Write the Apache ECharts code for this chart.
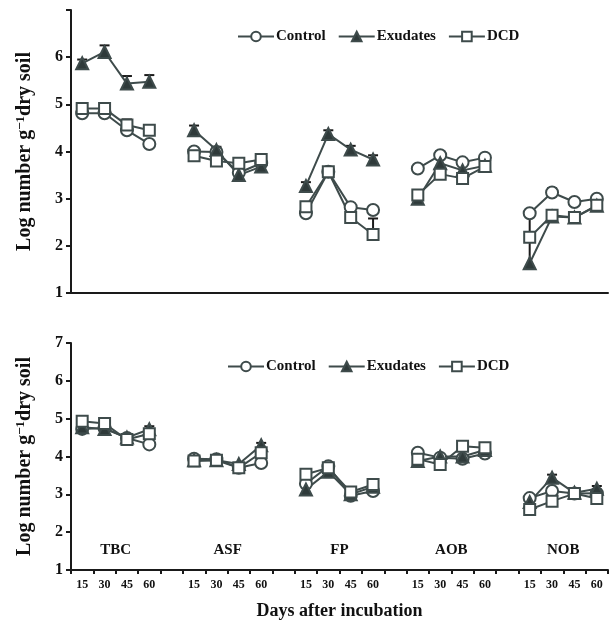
<!DOCTYPE html>
<html>
<head>
<meta charset="utf-8">
<script src="https://cdn.jsdelivr.net/npm/echarts@6/dist/echarts.min.js"></script>
<style>
  html, body { margin: 0; padding: 0; background: #fff; }
  #main { width: 613px; height: 621px; }
</style>
</head>
<body>
<div id="main"></div>
<script>
// groups on the x axis and the sampling days inside each group
const groups = ['TBC', 'ASF', 'FP', 'AOB', 'NOB']
const days = ['15', '30', '45', '60']

// upper panel (4 values per group, same order as groups)
const ctrlTop = [4.81, 4.81, 4.45, 4.16, 4.0, 3.99, 3.55, 3.75, 2.69, 3.57, 2.82, 2.76, 3.64, 3.92, 3.77, 3.87, 2.69, 3.13, 2.93, 3.0]
const exuTop = [5.87, 6.11, 5.44, 5.48, 4.45, 4.03, 3.5, 3.68, 3.27, 4.37, 4.04, 3.83, 3.0, 3.75, 3.6, 3.7, 1.63, 2.62, 2.6, 2.85]
const dcdTop = [4.91, 4.91, 4.56, 4.45, 3.91, 3.8, 3.75, 3.83, 2.83, 3.57, 2.6, 2.24, 3.08, 3.52, 3.43, 3.68, 2.18, 2.65, 2.6, 2.86]

// lower panel
const ctrlBot = [4.73, 4.75, 4.49, 4.32, 3.94, 3.93, 3.7, 3.83, 3.28, 3.74, 2.96, 3.09, 4.1, 3.97, 3.94, 4.08, 2.9, 3.09, 3.02, 3.03]
const exuBot = [4.77, 4.73, 4.5, 4.72, 3.9, 3.9, 3.8, 4.3, 3.13, 3.6, 3.0, 3.2, 3.88, 4.0, 4.0, 4.17, 2.8, 3.44, 3.04, 3.15]
const dcdBot = [4.93, 4.87, 4.45, 4.6, 3.88, 3.9, 3.7, 4.1, 3.53, 3.7, 3.06, 3.26, 3.93, 3.79, 4.27, 4.23, 2.6, 2.82, 3.02, 2.89]

// error bars: [point index (0-19), low, high]
const errTop = [
  [0, 5.87, 5.95], [1, 6.11, 6.25], [2, 5.44, 5.6], [3, 5.48, 5.62],
  [2, 4.56, 4.68], [4, 4.45, 4.55], [5, 4.03, 4.1],
  [8, 3.27, 3.35], [9, 4.37, 4.45], [10, 4.04, 4.12], [11, 3.83, 3.92],
  [11, 2.24, 2.58], [13, 3.92, 4.0], [12, 3.08, 3.15],
  [16, 1.63, 2.69], [17, 3.13, 3.22]
]
const errBot = [
  [0, 4.93, 4.98], [3, 4.72, 4.8], [7, 4.3, 4.36], [9, 3.74, 3.82],
  [11, 3.26, 3.33], [14, 4.27, 4.32], [15, 4.23, 4.3], [17, 3.44, 3.52], [19, 3.15, 3.22]
]

const ink = '#3e4b4b'
const font = 'Liberation Serif'

// 24 slots: 4 days per group and an empty slot between groups
const slotOf = i => Math.floor(i / 4) * 5 + (i % 4)
const categories = []
const tickLabels = []
groups.forEach((g, gi) => {
  days.forEach(d => { categories.push(g + '-' + d); tickLabels.push(d) })
  if (gi < groups.length - 1) { categories.push('gap' + gi); tickLabels.push('') }
})
function spread (vals) {
  const out = categories.map(() => null)
  vals.forEach((v, i) => { out[slotOf(i)] = v })
  return out
}

const chart = echarts.init(document.getElementById('main'))

const markers = {
  Control: { symbol: 'circle', size: 12, fill: '#fff' },
  Exudates: { symbol: 'triangle', size: 12, fill: '#2f3a3a' },
  DCD: { symbol: 'rect', size: 11, fill: '#fff' }
}

function lineSeries (name, vals, idx) {
  const m = markers[name]
  return {
    name: name,
    type: 'line',
    xAxisIndex: idx,
    yAxisIndex: idx,
    data: spread(vals),
    connectNulls: false,
    symbol: m.symbol,
    symbolSize: m.size,
    showAllSymbol: true,
    lineStyle: { color: ink, width: 2 },
    itemStyle: { color: m.fill, borderColor: ink, borderWidth: 2 },
    z: 3
  }
}

function errSeries (list, idx) {
  return {
    type: 'custom',
    xAxisIndex: idx,
    yAxisIndex: idx,
    data: list.map(e => [slotOf(e[0]), e[1], e[2]]),
    z: 2,
    renderItem: (params, api) => {
      const lo = api.coord([api.value(0), api.value(1)])
      const hi = api.coord([api.value(0), api.value(2)])
      const style = { stroke: '#1a1a1a', lineWidth: 2 }
      return {
        type: 'group',
        children: [
          { type: 'line', shape: { x1: lo[0], y1: lo[1], x2: hi[0], y2: hi[1] }, style: style },
          { type: 'line', shape: { x1: hi[0] - 5, y1: hi[1], x2: hi[0] + 5, y2: hi[1] }, style: style }
        ]
      }
    }
  }
}

const yName = 'Log number g{sup|−1}dry soil'
const nameStyle = {
  fontFamily: font, fontWeight: 'bold', fontSize: 20, color: '#111',
  rich: { sup: { fontFamily: font, fontWeight: 'bold', fontSize: 13, color: '#111', verticalAlign: 'top', padding: [0, 0, 9, 0] } }
}
const axisLine = { show: true, lineStyle: { color: '#1a1a1a', width: 2 } }

function yAxis (idx, hideTop) {
  return {
    type: 'value',
    gridIndex: idx,
    min: 1,
    max: 7,
    interval: 1,
    name: yName,
    nameLocation: 'middle',
    nameGap: 35,
    nameTextStyle: nameStyle,
    axisLine: axisLine,
    axisTick: { show: true, length: 5, lineStyle: { color: '#1a1a1a', width: 2 } },
    axisLabel: {
      fontFamily: font, fontWeight: 'bold', fontSize: 16, color: '#111', margin: 8,
      formatter: v => (hideTop && v === 7) ? '' : String(v)
    },
    splitLine: { show: false }
  }
}

function legend (idx, top, left) {
  return {
    data: ['Control', 'Exudates', 'DCD'],
    top: top,
    left: left,
    itemWidth: 36,
    itemHeight: 12,
    itemGap: 12,
    selectedMode: false,
    textStyle: { fontFamily: font, fontWeight: 'bold', fontSize: 15, color: '#111', padding: [0, 0, 0, -3] }
  }
}

const option = {
  animation: false,
  backgroundColor: '#fff',
  legend: [legend(0, 24, 232), legend(1, 354, 222)],
  grid: [
    { left: 71, right: 5, top: 10, height: 283 },
    { left: 71, right: 5, top: 343, height: 228 }
  ],
  xAxis: [
    {
      type: 'category', gridIndex: 0, data: categories,
      axisLine: axisLine, axisTick: { show: false }, axisLabel: { show: false }
    },
    {
      type: 'category', gridIndex: 1, data: categories,
      axisLine: axisLine,
      axisTick: { show: true, interval: 0, length: 4, lineStyle: { color: '#1a1a1a', width: 2 } },
      axisLabel: {
        interval: 0, margin: 9, fontFamily: font, fontWeight: 'bold', fontSize: 12, color: '#111',
        formatter: (v, i) => tickLabels[i]
      },
      name: 'Days after incubation',
      nameLocation: 'middle',
      nameGap: 32,
      nameTextStyle: { fontFamily: font, fontWeight: 'bold', fontSize: 18, color: '#111' }
    }
  ],
  yAxis: [yAxis(0, true), yAxis(1, false)],
  series: [
    errSeries(errTop, 0),
    lineSeries('Control', ctrlTop, 0),
    lineSeries('Exudates', exuTop, 0),
    lineSeries('DCD', dcdTop, 0),
    errSeries(errBot, 1),
    lineSeries('Control', ctrlBot, 1),
    lineSeries('Exudates', exuBot, 1),
    lineSeries('DCD', dcdBot, 1)
  ]
}

chart.setOption(option)

// group names sit inside the lower panel, centred under each group of four days
const labelY = chart.convertToPixel({ yAxisIndex: 1 }, 1.52)
chart.setOption({
  graphic: groups.map((g, gi) => {
    const a = chart.convertToPixel({ xAxisIndex: 1 }, gi * 5 + 1)
    const b = chart.convertToPixel({ xAxisIndex: 1 }, gi * 5 + 2)
    return {
      type: 'text',
      x: (a + b) / 2,
      y: labelY,
      style: {
        text: g, fontFamily: font, fontWeight: 'bold', fontSize: 15, fill: '#111',
        align: 'center', verticalAlign: 'middle'
      }
    }
  })
})
</script>
</body>
</html>
